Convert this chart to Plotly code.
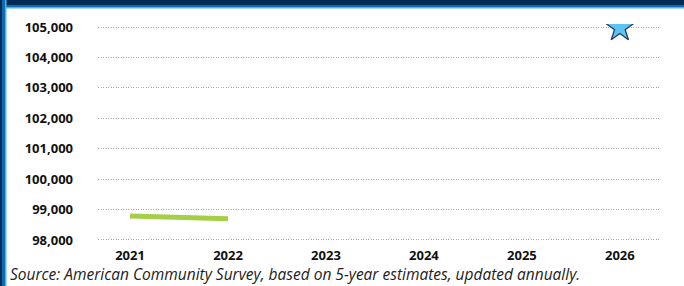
import plotly.graph_objects as go

years = [2021, 2022, 2023, 2024, 2025, 2026]
year_labels = ["2021", "2022", "2023", "2024", "2025", "2026"]
actual_years = [2021, 2022]
actual_values = [98790, 98700]
target_year = [2026]
target_value = [104970]
y_ticks = [98000, 99000, 100000, 101000, 102000, 103000, 104000, 105000]
y_tick_labels = [f"{v:,}" for v in y_ticks]
source_text = "Source: American Community Survey, based on 5-year estimates, updated annually."

W, H = 684, 286
L, R, T, B = 98, 24, 24, 43
pw = W - L - R
ph = H - T - B

def px(x):
    return (x - L) / pw

def py(y):
    return 1 - (y - T) / ph

fig = go.Figure()
fig.add_trace(go.Scatter(
    x=actual_years, y=actual_values, mode="lines",
    line=dict(color="#a6cf48", width=5), hoverinfo="skip", showlegend=False,
))
fig.add_trace(go.Scatter(
    x=target_year, y=target_value, mode="markers",
    marker=dict(symbol="star", size=21, color="#5cc3f2",
                line=dict(color="#1d3f66", width=1.3)),
    hoverinfo="skip", showlegend=False,
))

frame = [
    # (x0, x1, y0, y1, color) in figure pixels
    (0, W, 0, 8.5, "#4fb4e8"),
    (0, W, 0, 7, "#0b6cb3"),
    (0, W, 0, 5, "#002b55"),
    (0, 6.5, 0, H, "#4fb4e8"),
    (0, 5, 0, H, "#0b6cb3"),
    (0, 2, 0, H, "#002b55"),
]
shapes = [dict(type="rect", xref="paper", yref="paper",
               x0=px(a), x1=px(b), y0=py(d), y1=py(c),
               fillcolor=col, line_width=0, layer="above")
          for a, b, c, d, col in frame]

fig.update_layout(
    width=W, height=H,
    margin=dict(l=L, r=R, t=T, b=B, pad=0),
    paper_bgcolor="white", plot_bgcolor="white",
    font=dict(family="Open Sans, sans-serif", color="#111"),
    shapes=shapes,
    xaxis=dict(
        range=[2020.673, 2026.41], tickvals=years, ticktext=year_labels,
        showgrid=False, zeroline=False, showline=False, ticks="",
        tickfont=dict(size=13, weight="bold", color="#111"),
        ticklabelstandoff=3,
    ),
    yaxis=dict(
        range=[97900, 105100], tickvals=y_ticks, ticktext=y_tick_labels,
        showgrid=True, gridcolor="#a8a8a8", griddash="1px,1.5px", gridwidth=1,
        zeroline=False, showline=False, ticks="",
        tickfont=dict(size=13, weight="bold", color="#111"),
        ticklabelstandoff=24,
    ),
    annotations=[dict(
        text=source_text, xref="paper", yref="paper",
        x=px(8), y=py(274), xanchor="left", yanchor="middle",
        showarrow=False, font=dict(size=15.5, style="italic", color="#222",
                                   family="Open Sans, sans-serif"),
    )],
)

fig.write_html(
    "out.html", config={"displayModeBar": False, "responsive": False},
    post_script=("document.body.style.margin='0';document.body.style.padding='0';"
                 "document.documentElement.style.overflow='hidden';"),
)
